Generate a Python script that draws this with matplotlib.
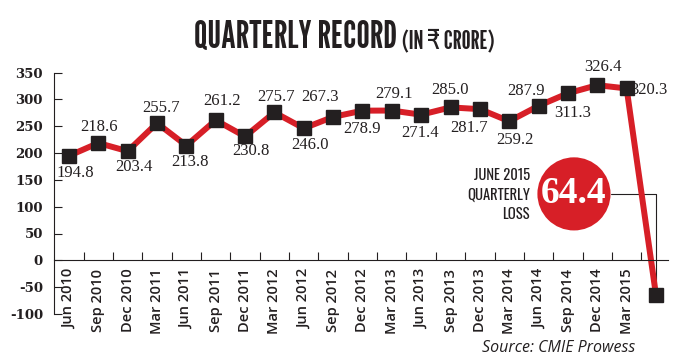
import matplotlib
matplotlib.use('Agg')
import matplotlib.pyplot as plt
import numpy as np

plt.rcParams['axes.unicode_minus'] = False

quarters = ['Jun 2010', 'Sep 2010', 'Dec 2010', 'Mar 2011', 'Jun 2011', 'Sep 2011',
            'Dec 2011', 'Mar 2012', 'Jun 2012', 'Sep 2012', 'Dec 2012', 'Mar 2013',
            'Jun 2013', 'Sep 2013', 'Dec 2013', 'Mar 2014', 'Jun 2014', 'Sep 2014',
            'Dec 2014', 'Mar 2015']
profit = [194.8, 218.6, 203.4, 255.7, 213.8, 261.2, 230.8, 275.7, 246.0, 267.3,
          278.9, 279.1, 271.4, 285.0, 281.7, 259.2, 287.9, 311.3, 326.4, 320.3]
june_2015 = -64.4

red = '#d71f27'
ink = '#231f20'
condensed = ['League Gothic', 'Antonio', 'Oswald', 'Bebas Neue', 'DejaVu Sans']
callout_font = ['Oswald', 'Roboto Condensed', 'Barlow Condensed', 'DejaVu Sans']
sans = ['Open Sans', 'DejaVu Sans']

values = profit + [june_2015]
x = np.arange(len(values))

fig = plt.figure(figsize=(6.85, 3.59), dpi=100)
ax = fig.add_axes([54 / 685, 1 - 314 / 359, 614 / 685, 241.5 / 359])

ax.spines['top'].set_visible(False)
ax.spines['right'].set_visible(False)
ax.spines['bottom'].set_position(('data', 0))
for s in ('left', 'bottom'):
    ax.spines[s].set_linewidth(0.8)
    ax.spines[s].set_color(ink)

ax.plot(x, values, color=red, lw=4.3, marker='s', ms=9.5,
        mfc=ink, mec=ink, zorder=2)

# value labels, pixel offsets (dx, dy) from each point
offsets = [(6, -17), (1, 16), (6, -16), (4, 15), (4, -16), (6, 19), (6, -15),
           (2, 15), (6, -17), (-13, 20), (0, -18), (2, 17), (-1, -18), (-1, 17),
           (-11, -19), (6, -19), (-13, 15), (5, -20), (6, 18)]
for i, v in enumerate(profit[:-1]):
    ax.annotate(f'{v:.1f}', (x[i], v), xytext=offsets[i], textcoords='offset pixels',
                ha='center', va='center', fontsize=12, family='Liberation Serif',
                color=ink)
ax.annotate(f'{profit[-1]:.1f}', (x[len(profit) - 1], profit[-1]), xytext=(4, -2),
            textcoords='offset pixels', ha='left', va='center', fontsize=12,
            family='Liberation Serif', color=ink)

# callout for the June 2015 loss
ax.annotate(f'{abs(june_2015):.1f}', (x[-1], june_2015), xytext=(-82, 101),
            textcoords='offset pixels', ha='center', va='center', fontsize=27,
            family='Liberation Serif', weight='bold', color='white', zorder=1,
            bbox=dict(boxstyle='circle,pad=0.1', fc=red, ec='none'),
            arrowprops=dict(arrowstyle='-', color=ink, lw=0.8, shrinkA=0, shrinkB=0,
                            connectionstyle='angle,angleA=0,angleB=90,rad=0'))
ax.annotate('JUNE 2015\nQUARTERLY\nLOSS', (x[-1], june_2015), xytext=(-126, 100),
            textcoords='offset pixels', ha='right', va='center', ma='right',
            fontsize=10.5, linespacing=1.35, color=ink, weight='light',
            family=callout_font)

ax.set_xlim(-0.51, 20.41)
ax.set_ylim(-100, 350)
ax.set_yticks(np.arange(-100, 351, 50))
ax.set_xticks(np.arange(len(quarters)), quarters)
ax.set_xticks(x[:-1] + 0.5, minor=True)
ax.tick_params(axis='x', which='major', length=0, pad=6, labelrotation=90,
               labelsize=10.5, labelcolor=ink, labelfontfamily=sans)
ax.tick_params(axis='x', which='minor', direction='in', length=6, width=0.8, color=ink)
ax.tick_params(axis='y', direction='in', length=6, width=0.8, color=ink, pad=8,
               labelsize=9.5, labelcolor=ink, labelfontfamily='DejaVu Serif')

title = fig.text(194 / 685, 1 - 48 / 359, 'QUARTERLY RECORD', fontsize=27,
                 va='baseline', color=ink, family=condensed)
unit = fig.text(0.6, 1 - 48 / 359, '(IN ₹ CRORE)', fontsize=18, va='baseline',
                color=ink, family=condensed)
fig.text(635 / 685, 1 - 348 / 359, 'Source: CMIE Prowess', fontsize=11.5, style='italic',
         ha='right', va='center', color=ink, family=sans)

fig.canvas.draw()
# put the unit text right after the title
bb = title.get_window_extent()
unit.set_x((bb.x1 + 5) / fig.bbox.width)
for lab in ax.get_xticklabels():
    lab.set_fontweight('semibold')
for lab in ax.get_yticklabels():
    lab.set_fontweight('bold')

fig.savefig('out.png', dpi=100, facecolor='white')
